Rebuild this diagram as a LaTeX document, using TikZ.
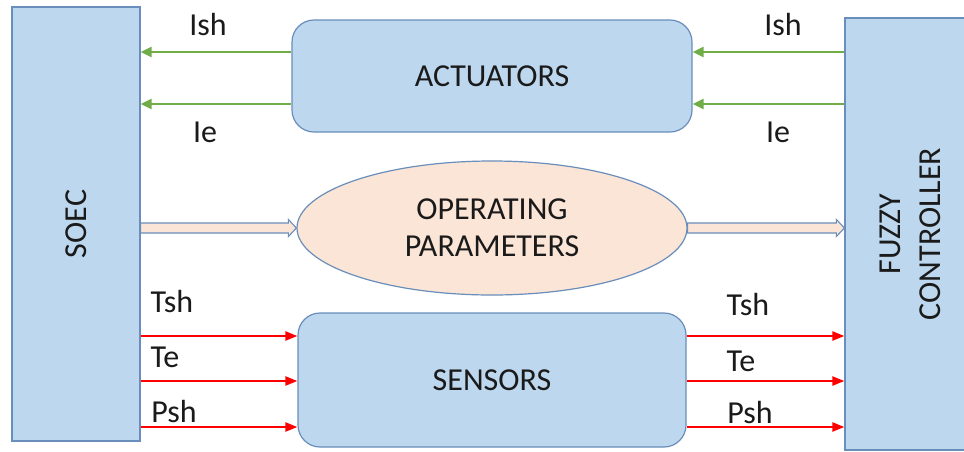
\documentclass[tikz,border=0pt]{standalone}
\usepackage{fontspec}
\setmainfont{Carlito}
\usetikzlibrary{arrows.meta,calc,shapes.geometric}
\definecolor{boxfill}{HTML}{BDD7EE}
\definecolor{boxline}{HTML}{6A8EBB}
\definecolor{peach}{HTML}{FBE5D6}
\definecolor{ctrlgreen}{HTML}{70AD47}
\definecolor{sigred}{HTML}{FF0000}
\definecolor{ink}{HTML}{1A1A1A}

% hollow block arrow between two points on the same horizontal line
\newcommand\hollowarrow[2]{%
  \draw[fatarrow] let \p1=(#1), \p2=(#2) in
    (\x1,\y1+5pt) -- (\x2-8pt,\y1+5pt) -- (\x2-8pt,\y1+8.5pt) -- (\x2,\y1)
    -- (\x2-8pt,\y1-8.5pt) -- (\x2-8pt,\y1-5pt) -- (\x1,\y1-5pt) -- cycle;}

\begin{document}
\begin{tikzpicture}[x=1pt,y=-1pt,
  bigfont/.style={font=\fontsize{32}{37}\selectfont, text=ink},
  lbl/.style={bigfont, inner sep=0pt, anchor=base},
  block/.style={draw=boxline, fill=boxfill, line width=1.2pt, inner sep=0pt, bigfont},
  roundblock/.style={block, rounded corners=22pt},
  fatarrow/.style={draw=boxline, fill=peach, line width=1.1pt, line join=miter},
  garrow/.style={draw=ctrlgreen, line width=2.2pt, -{Triangle[length=11pt,width=10pt]}},
  rarrow/.style={draw=sigred, line width=2.2pt, -{Triangle[length=12pt,width=9pt]}}]

\clip (0,0) rectangle (964,451);
\fill[white] (0,0) rectangle (964,451);

% main blocks
\node[block, minimum width=128, minimum height=434] (soec) at (76,224) {};
\node[bigfont, rotate=90] (soeclbl) at (soec.center) {SOEC};

\node[block, minimum width=130, minimum height=432] (fz) at (910,234) {};
\node[font=\fontsize{32}{40}\selectfont, text=ink, rotate=90, align=center]
  (fzlbl) at (fz.center) {FUZZY\\CONTROLLER};

\node[roundblock, minimum width=400, minimum height=112] (act) at (492,76) {ACTUATORS};
\node[block, shape=ellipse, fill=peach, minimum width=390, minimum height=134,
      align=center] (op) at (492,228) {OPERATING\\PARAMETERS};
\node[roundblock, minimum width=388, minimum height=134] (sen) at (492,380) {SENSORS};

% signal levels
\coordinate (g1) at (0,52);
\coordinate (g2) at (0,104);
\coordinate (r1) at (0,336);
\coordinate (r2) at (0,381);
\coordinate (r3) at (0,427);

% actuator commands
\draw[garrow] (fz.west |- g1) -- (act.east |- g1);
\draw[garrow] (fz.west |- g2) -- (act.east |- g2);
\draw[garrow] (act.west |- g1) -- (soec.east |- g1);
\draw[garrow] (act.west |- g2) -- (soec.east |- g2);

% operating parameters flow
\hollowarrow{soec.east |- op.west}{op.west}
\hollowarrow{op.east}{fz.west |- op.east}

% sensor signals
\foreach \r in {r1,r2,r3}{
  \draw[rarrow] (soec.east |- \r) -- (sen.west |- \r);
  \draw[rarrow] (sen.east |- \r) -- (fz.west |- \r);
}

% signal labels
\node[lbl] (ish1) at (208,35) {Ish};
\node[lbl] (ie1) at (205,142) {Ie};
\node[lbl] (ish2) at (783,35) {Ish};
\node[lbl] (ie2) at (778,142) {Ie};
\node[lbl] (tsh1) at (172,312) {Tsh};
\node[lbl] (te1) at (165,367) {Te};
\node[lbl] (psh1) at (174,422) {Psh};
\node[lbl] (tsh2) at (748,315) {Tsh};
\node[lbl] (te2) at (741,371) {Te};
\node[lbl] (psh2) at (750,423) {Psh};
\end{tikzpicture}
\end{document}
